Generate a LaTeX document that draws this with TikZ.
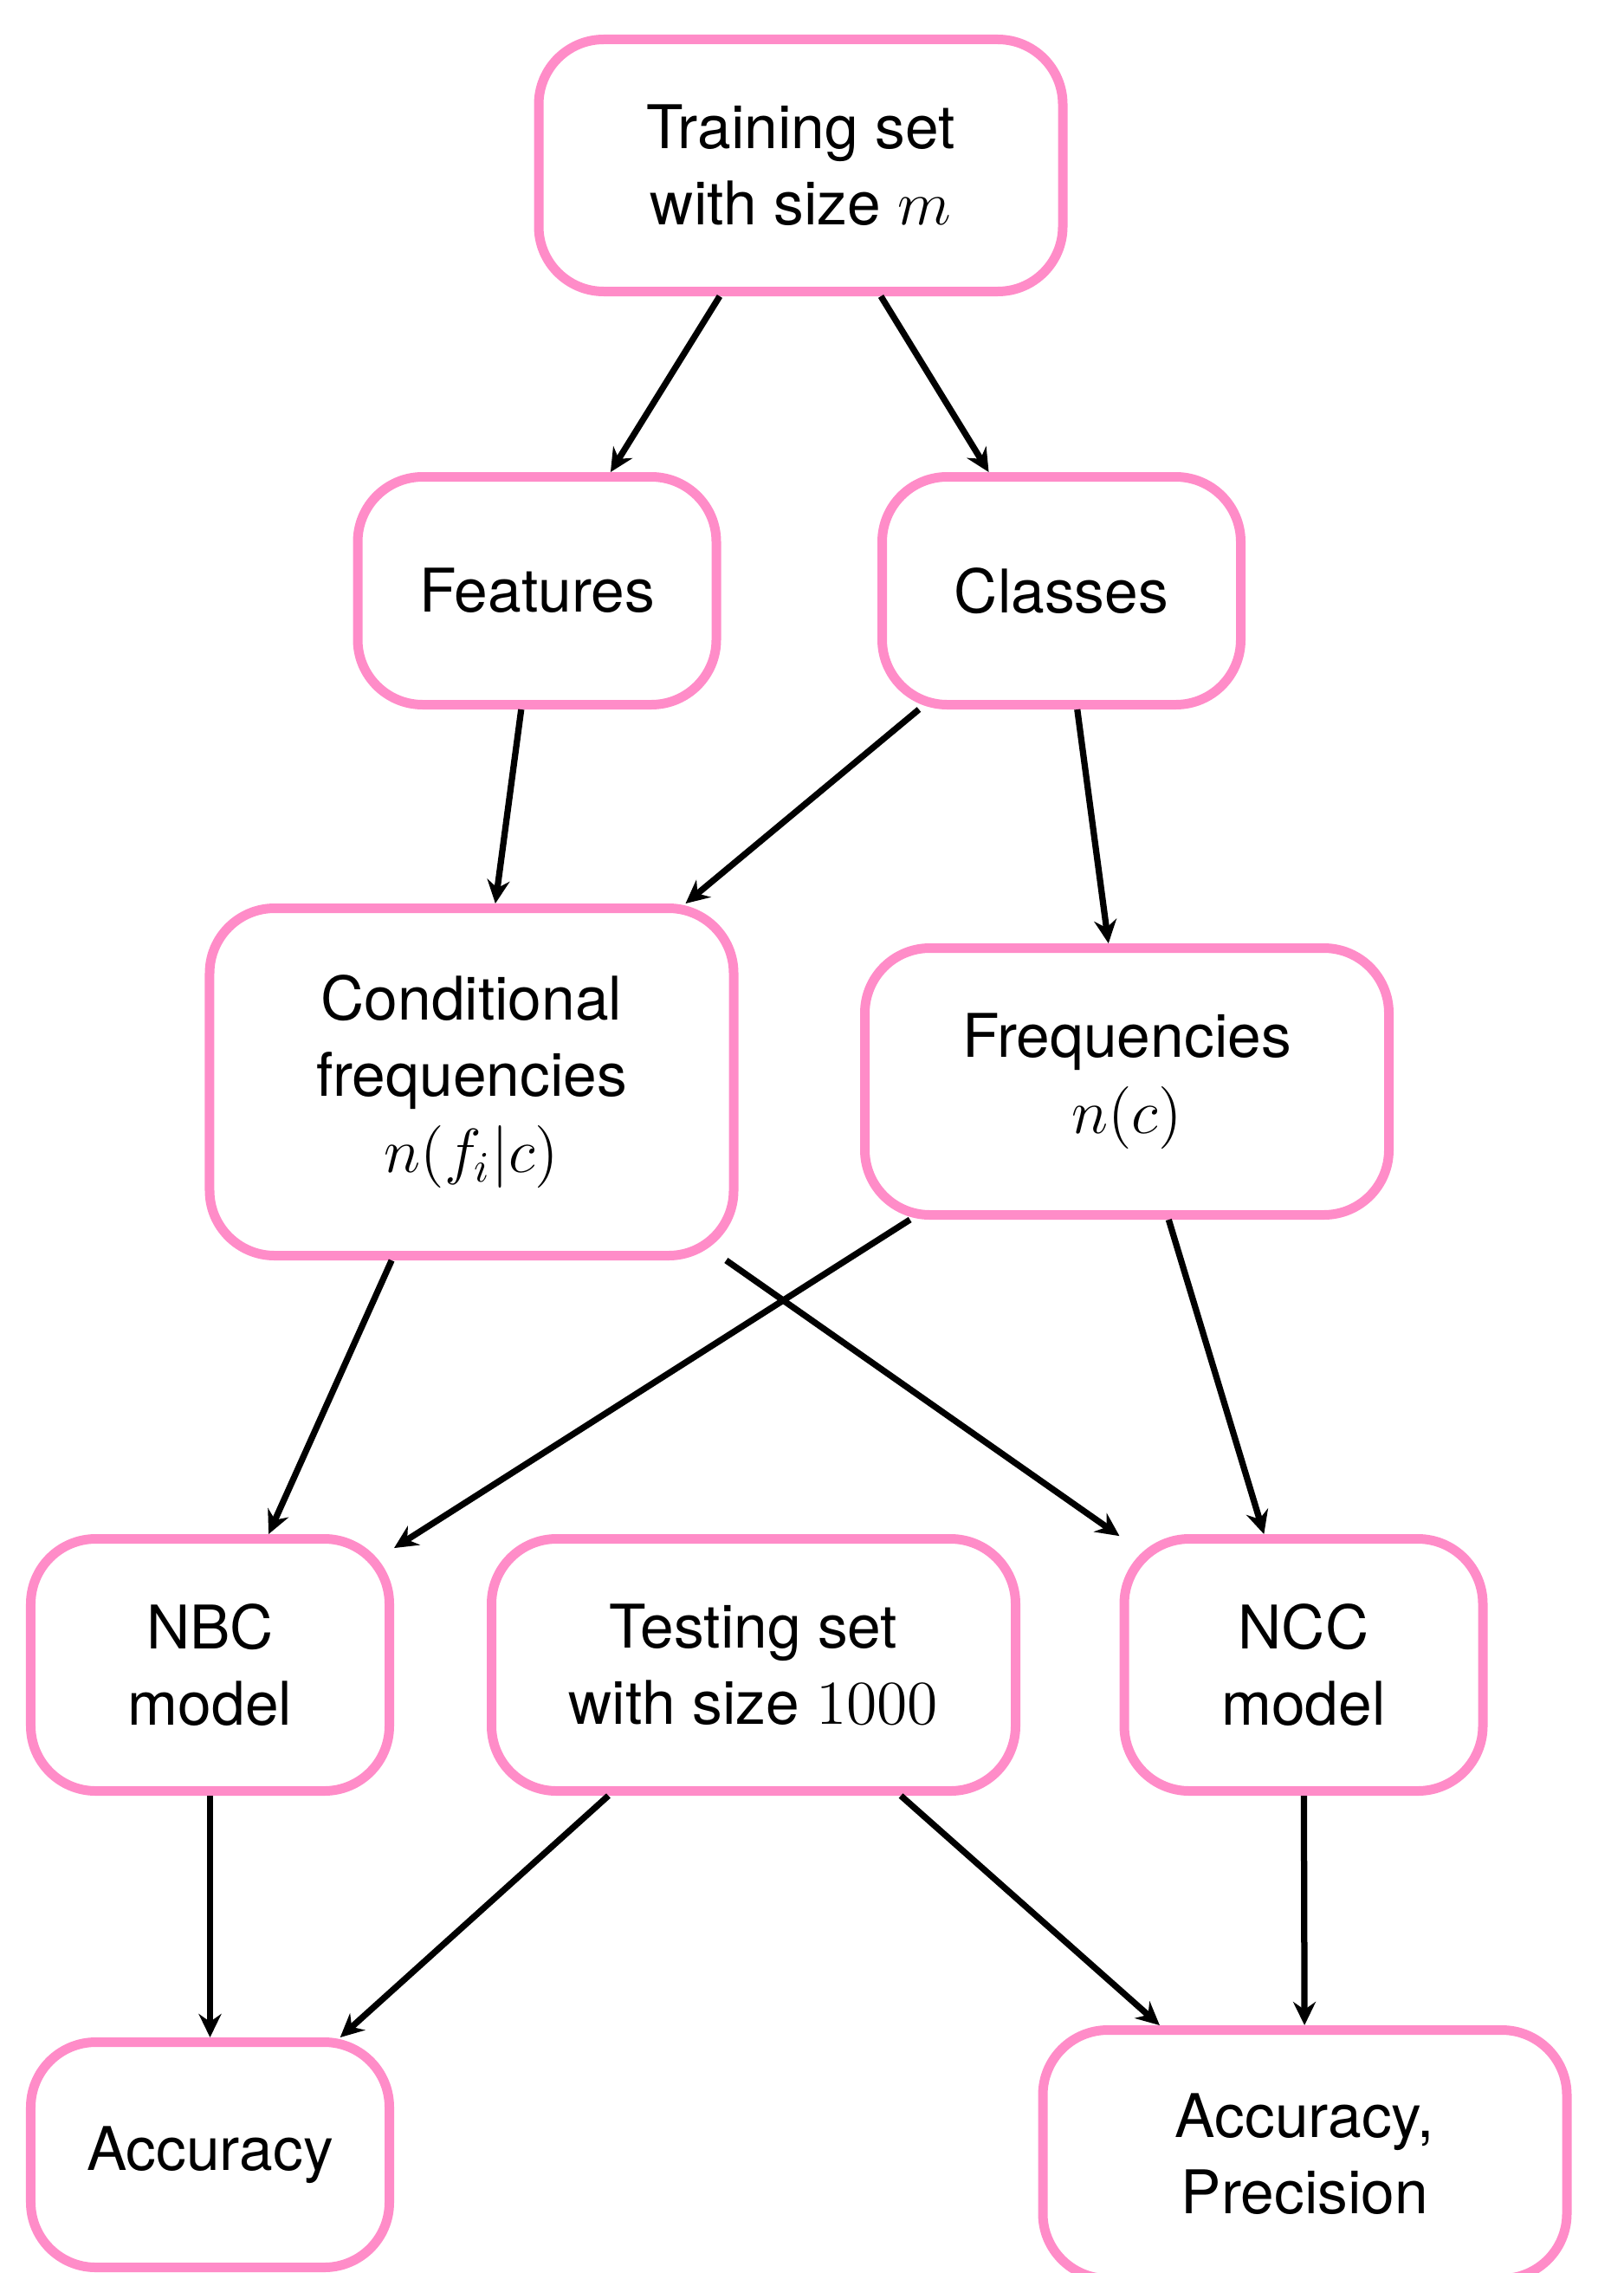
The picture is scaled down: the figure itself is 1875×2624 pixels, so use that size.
\documentclass[tikz,border=0pt]{standalone}
\usepackage[no-math]{fontspec}
\setmainfont{TeX Gyre Heros}
\usetikzlibrary{arrows.meta}
\definecolor{boxpink}{RGB}{255,140,200}
\begin{document}
\begin{tikzpicture}[x=0.2pt,y=-0.2pt,
  box/.style={draw=boxpink, line width=2.2pt, rounded corners=15pt, align=center,
    inner sep=0pt, font=\fontsize{13.9}{17.6}\selectfont, text=black},
  wide/.style={box, minimum width=121pt},
  narrow/.style={box, minimum width=82.8pt},
  conn/.style={-{Stealth[length=5.4pt,width=5.2pt,inset=1.8pt]}, line width=1.45pt, draw=black}]
\useasboundingbox (0,0) rectangle (1875,2624);
\node[wide, minimum height=58.2pt] (train) at (924.5,191) {Training set\\with size $m$};
\node[narrow, minimum height=52.6pt] (feat) at (620,682) {Features};
\node[narrow, minimum height=52.6pt] (cls) at (1225.5,682) {Classes};
\node[wide, minimum height=80.2pt] (cond) at (544.5,1249) {Conditional\\frequencies\\$n(f_i|c)$};
\node[wide, minimum height=61.6pt] (freq) at (1301,1248.5) {Frequencies\\$n(c)$};
\node[narrow, minimum height=58.2pt] (nbc) at (242.5,1922) {NBC\\model};
\node[wide, minimum height=58.2pt] (test) at (870,1922) {Testing set\\with size $1000$};
\node[narrow, minimum height=58.2pt] (ncc) at (1505,1922) {NCC\\model};
\node[narrow, minimum height=52pt] (acc) at (242.5,2487.5) {Accuracy};
\node[wide, minimum height=57.4pt] (accp) at (1506.5,2487) {Accuracy,\\Precision};
\draw[conn] (train) -- (feat);
\draw[conn] (train) -- (cls);
\draw[conn] (feat) -- (cond);
\draw[conn] (cls) -- (cond);
\draw[conn] (cls) -- (freq);
\draw[conn] (cond) -- (nbc);
\draw[conn] (cond) -- (ncc);
\draw[conn] (freq) -- (nbc);
\draw[conn] (freq) -- (ncc);
\draw[conn] (nbc) -- (acc);
\draw[conn] (test) -- (acc);
\draw[conn] (test) -- (accp);
\draw[conn] (ncc) -- (accp);
\end{tikzpicture}
\end{document}
